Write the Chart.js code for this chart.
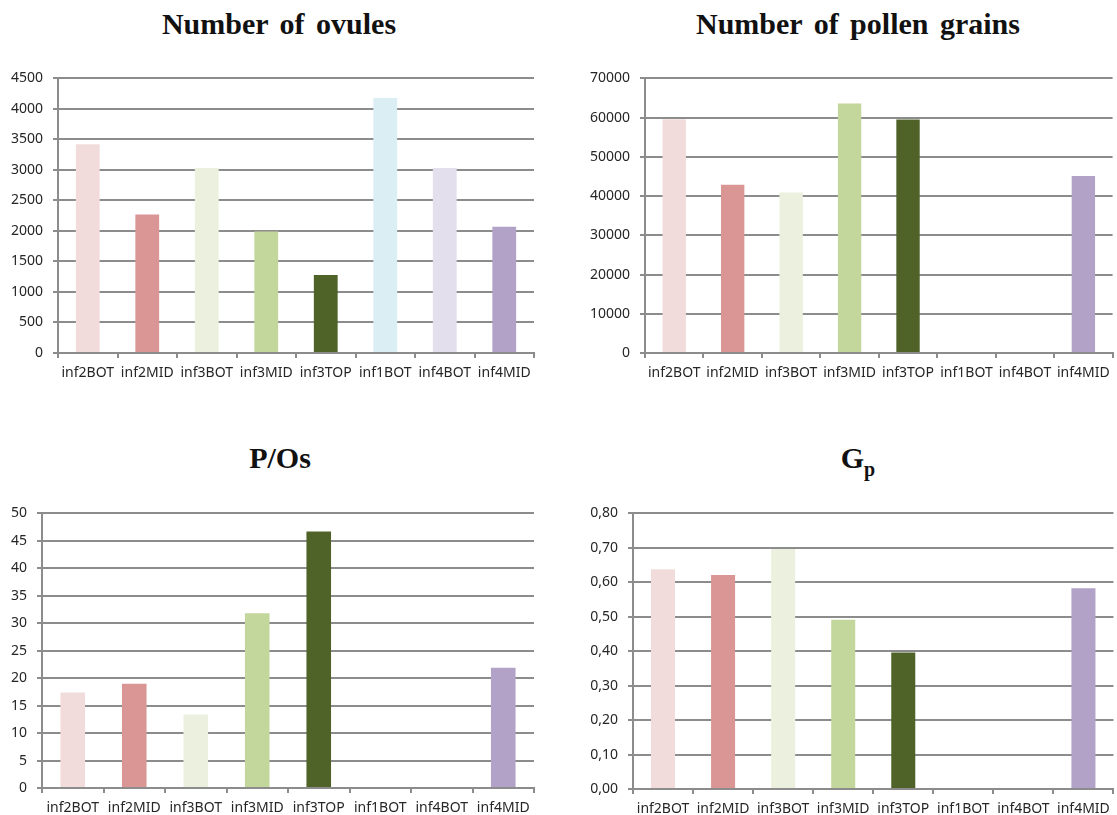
<!DOCTYPE html>
<html>
<head>
<meta charset="utf-8">
<script src="https://cdn.jsdelivr.net/npm/chart.js@4"></script>
<style>
  body { margin: 0; background: #fff; }
  #wrap { position: relative; width: 1117px; height: 815px; overflow: hidden; }
  .title {
    position: absolute; font-family: "Liberation Serif", serif; font-weight: bold;
    font-size: 30px; line-height: 30px; color: #111; text-align: center; word-spacing: 4px;
  }
  .title sub { font-size: 20px; vertical-align: -8px; }
  canvas { position: absolute; }
</style>
</head>
<body>
<div id="wrap">
  <div class="title" style="left:0; top:9px; width:558px;">Number of ovules</div>
  <div class="title" style="left:600px; top:9px; width:516px;">Number of pollen grains</div>
  <div class="title" style="left:0; top:443px; width:560px;">P/Os</div>
  <div class="title" style="left:600px; top:443px; width:516px;">G<sub>p</sub></div>

  <canvas id="c1" style="left:0; top:60px;"></canvas>
  <canvas id="c2" style="left:558px; top:60px;"></canvas>
  <canvas id="c3" style="left:0; top:495px;"></canvas>
  <canvas id="c4" style="left:558px; top:495px;"></canvas>
</div>
<script>
const categories = ["inf2BOT", "inf2MID", "inf3BOT", "inf3MID", "inf3TOP", "inf1BOT", "inf4BOT", "inf4MID"];
const barColors = ["#f2dcdb", "#d99694", "#ebf1de", "#c3d69b", "#4f6228", "#dbeef4", "#e4dfec", "#b2a2c7"];

const ovules = [3420, 2270, 3030, 1990, 1280, 4180, 3030, 2070];
const pollenGrains = [59600, 42900, 40900, 63600, 59500, null, null, 45100];
const pOs = [17.4, 19.0, 13.4, 31.8, 46.7, null, null, 21.9];
const gp = [0.638, 0.621, 0.697, 0.491, 0.396, null, null, 0.583];

const gridGray = "#8c8c8c";
const tickFont = { family: "Noto Sans", size: 14 };
const tickColor = "#262626";

function makeChart(id, w, h, data, yMax, yStep, yWidth, xHeight, padRight, fmt) {
  const cv = document.getElementById(id);
  cv.width = w;
  cv.height = h;
  cv.style.width = w + "px";
  cv.style.height = h + "px";
  return new Chart(cv.getContext("2d"), {
    type: "bar",
    data: {
      labels: categories,
      datasets: [{
        data: data,
        backgroundColor: barColors,
        barPercentage: 0.4,
        categoryPercentage: 1.0
      }]
    },
    options: {
      responsive: false,
      animation: false,
      layout: { padding: { left: 0, right: padRight, top: 15, bottom: 0 } },
      plugins: { legend: { display: false }, tooltip: { enabled: false } },
      scales: {
        x: {
          offset: true,
          grid: { offset: true, drawOnChartArea: false, drawTicks: true, tickLength: 5, color: gridGray, lineWidth: 2 },
          border: { display: true, color: gridGray, width: 2 },
          ticks: { font: tickFont, color: tickColor, maxRotation: 0, autoSkip: false, padding: 7 },
          afterFit: s => { s.height = xHeight; }
        },
        y: {
          min: 0,
          max: yMax,
          grid: { color: gridGray, lineWidth: 2, tickLength: 5 },
          border: { display: true, color: gridGray, width: 2 },
          ticks: { stepSize: yStep, font: tickFont, color: tickColor, padding: 10, callback: fmt },
          afterFit: s => { s.width = yWidth; }
        }
      }
    }
  });
}

const plain = v => String(v);
const comma = v => v.toFixed(2).replace(".", ",");

makeChart("c1", 558, 330, ovules, 4500, 500, 58, 37, 24, plain);
makeChart("c2", 559, 330, pollenGrains, 70000, 10000, 87, 37, 4, plain);
makeChart("c3", 558, 320, pOs, 50, 5, 42, 27, 24, plain);
makeChart("c4", 559, 320, gp, 0.8, 0.1, 75, 26, 3, comma);
</script>
</body>
</html>
